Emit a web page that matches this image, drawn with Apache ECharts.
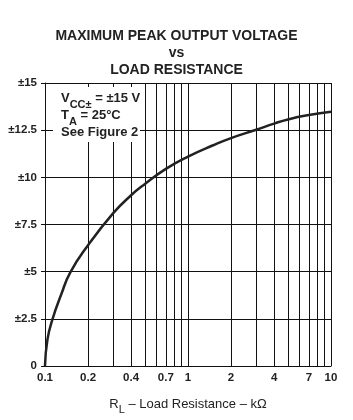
<!DOCTYPE html>
<html>
<head>
<meta charset="utf-8">
<script src="https://cdn.jsdelivr.net/npm/echarts@6/dist/echarts.min.js"></script>
<style>
  html, body { margin: 0; padding: 0; background: #fff; }
  #chart { width: 353px; height: 420px; }
</style>
</head>
<body>
<div id="chart"></div>
<script>
  // load resistance (kOhm) and max peak output voltage (V)
  var resistance = [0.1, 0.104, 0.113, 0.13, 0.15, 0.2, 0.3, 0.4, 0.5, 0.7, 1, 1.5, 2, 3, 4, 5, 7, 10]
  var voltage = [0, 1.4, 2.5, 3.8, 4.95, 6.4, 8.1, 9.05, 9.65, 10.45, 11.1, 11.7, 12.08, 12.52, 12.85, 13.07, 13.3, 13.47]
  var xGridValues = [0.1, 0.2, 0.3, 0.4, 0.5, 0.6, 0.7, 0.8, 0.9, 1, 2, 3, 4, 5, 6, 7, 8, 9, 10]
  var xLabelValues = [0.1, 0.2, 0.4, 0.7, 1, 2, 4, 7, 10]

  var points = resistance.map(function (r, i) { return [r, voltage[i]] })
  var font = 'Liberation Sans, Arial, sans-serif'

  var myChart = echarts.init(document.getElementById('chart'))
  myChart.setOption({
    animation: false,
    title: {
      text: 'MAXIMUM PEAK OUTPUT VOLTAGE\nvs\nLOAD RESISTANCE',
      left: 'center',
      top: 23,
      textStyle: {
        fontFamily: font,
        fontSize: 14,
        fontWeight: 'bold',
        color: '#222',
        lineHeight: 17
      }
    },
    grid: {
      left: 45,
      right: 22,
      top: 83,
      bottom: 53
    },
    xAxis: {
      type: 'log',
      logBase: 10,
      min: 0.1,
      max: 10,
      axisLine: { lineStyle: { color: '#111', width: 1 } },
      axisTick: { show: false, customValues: xGridValues },
      axisLabel: {
        customValues: xLabelValues,
        color: '#222',
        fontFamily: font,
        fontSize: 11.5,
        fontWeight: 'bold',
        margin: 6,
        formatter: function (v) { return String(+v.toFixed(1)) }
      },
      splitLine: { show: true, lineStyle: { color: '#111', width: 1 } },
      name: '{m|R}{s|L}{m| – Load Resistance – kΩ}',
      nameLocation: 'middle',
      nameGap: 32,
      nameTextStyle: {
        rich: {
          m: { fontFamily: font, fontSize: 13, color: '#222', verticalAlign: 'top', lineHeight: 16 },
          s: { fontFamily: font, fontSize: 11, color: '#222', verticalAlign: 'top', lineHeight: 10, padding: [6, 0, 0, 0] }
        }
      }
    },
    yAxis: {
      type: 'value',
      min: 0,
      max: 15,
      interval: 2.5,
      axisLine: { show: true, lineStyle: { color: '#111', width: 1 } },
      axisTick: { show: true, length: 4, lineStyle: { color: '#111' } },
      axisLabel: {
        color: '#222',
        fontFamily: font,
        fontSize: 11.5,
        fontWeight: 'bold',
        margin: 8,
        formatter: function (v) { return v === 0 ? '0' : '±' + v }
      },
      splitLine: { show: true, lineStyle: { color: '#111', width: 1 } }
    },
    graphic: [
      {
        type: 'rect',
        left: 53,
        top: 87,
        shape: { width: 87, height: 55 },
        style: { fill: '#fff' },
        z: 100
      },
      {
        type: 'text',
        left: 61,
        top: 92,
        z: 101,
        style: {
          text: '{m|V}{s|CC±}{m| = ±15 V}\n{m|T}{s|A}{m| = 25°C}\n{m|See Figure 2}',
          rich: {
            m: { fontFamily: font, fontSize: 13, fontWeight: 'bold', fill: '#222', verticalAlign: 'top', lineHeight: 17 },
            s: { fontFamily: font, fontSize: 11, fontWeight: 'bold', fill: '#222', verticalAlign: 'top', lineHeight: 10, padding: [7, 0, 0, 0] }
          }
        }
      }
    ],
    series: [
      {
        type: 'line',
        data: points,
        smooth: 0.5,
        showSymbol: false,
        lineStyle: { color: '#222', width: 2.5 },
        z: 5
      }
    ]
  })
</script>
</body>
</html>
